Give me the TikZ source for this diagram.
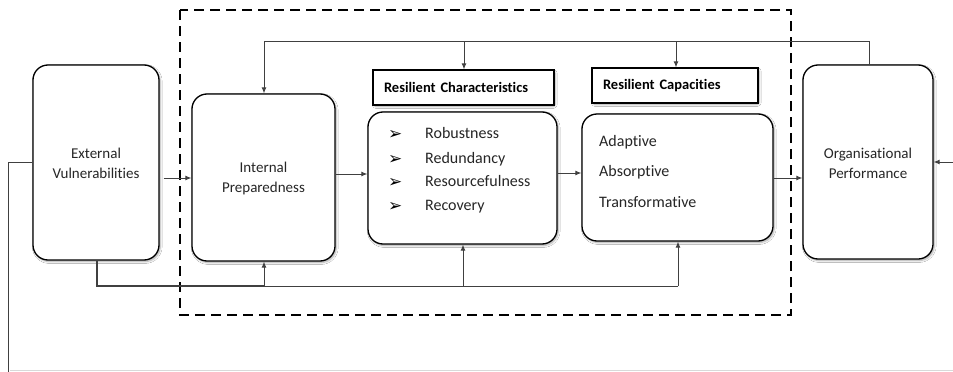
\documentclass[tikz,border=0pt]{standalone}
\usepackage{fontspec}
\setmainfont{Carlito}[Ligatures=NoCommon]
\newfontfamily\symfont{DejaVu Sans}
\usetikzlibrary{arrows.meta,shadows.blur}
\tikzset{
  softshadow/.style={blur shadow={shadow blur steps=6,shadow xshift=1.2pt,shadow yshift=-1.5pt,shadow opacity=35,shadow blur extra rounding=2pt}},
  mainbox/.style={draw=black,line width=1.3pt,rounded corners=15pt,fill=white,softshadow,inner sep=0pt},
  headbox/.style={draw=black,line width=1.3pt,fill=white,softshadow,inner xsep=11pt,inner ysep=0pt,align=left,font=\fontsize{14.5}{17}\selectfont\bfseries},
  boxtext/.style={align=center,font=\fontsize{15}{20}\selectfont,text=black!85},
  itemtext/.style={anchor=base west,inner sep=0pt,font=\fontsize{16}{20}\selectfont,text=black!85},
  bullet/.style={anchor=base west,inner sep=0pt,font=\symfont\fontsize{17}{20}\selectfont},
  conn/.style={draw=black!75,line width=0.9pt},
  arr/.style={conn,-{Latex[length=6pt,width=5pt]}},
  dashbox/.style={draw=black,line width=2.3pt,dash pattern=on 10pt off 6pt}
}
\begin{document}
\begin{tikzpicture}[x=1pt,y=-1pt]
\useasboundingbox (0,0) rectangle (953,372);
\fill[white] (0,0) rectangle (953,372);

% dashed frame
\draw[dashbox] (180,10) rectangle (791,315);

% main boxes
\node[mainbox,minimum width=126pt,minimum height=195pt] (EV) at (96,162.5) {};
\node[boxtext] (EVt) at (96,163) {External\\Vulnerabilities};
\node[mainbox,minimum width=143pt,minimum height=167pt] (IP) at (263.5,177.5) {};
\node[boxtext] (IPt) at (263.5,178) {Internal\\Preparedness};
\node[mainbox,minimum width=189pt,minimum height=132pt] (CH) at (462.5,178) {};
\node[mainbox,minimum width=191pt,minimum height=127pt] (CA) at (677.5,177.5) {};
\node[mainbox,minimum width=130pt,minimum height=194pt] (OP) at (868,162) {};
\node[boxtext] (OPt) at (868,163) {Organisational\\Performance};

% headers
\node[headbox,minimum width=181pt,minimum height=35pt,text width=159pt] (HC) at (463.5,87.5) {Resilient Characteristics};
\node[headbox,minimum width=166pt,minimum height=35pt,text width=144pt] (HA) at (675,85.5) {Resilient Capacities};

% characteristics list
\node[bullet] (b1) at (388,139) {➢};
\node[bullet] (b2) at (388,164) {➢};
\node[bullet] (b3) at (388,187) {➢};
\node[bullet] (b4) at (388,211) {➢};
\node[itemtext] (i1) at (425,138) {Robustness};
\node[itemtext] (i2) at (425,163) {Redundancy};
\node[itemtext] (i3) at (425,186) {Resourcefulness};
\node[itemtext] (i4) at (425,210) {Recovery};

% capacities list
\node[itemtext] (c1) at (599,146) {Adaptive};
\node[itemtext] (c2) at (599,176) {Absorptive};
\node[itemtext] (c3) at (599,207) {Transformative};

% coordinates for routing
\coordinate (topL) at (264,41);
\coordinate (topR) at (869,41);
\coordinate (botL) at (97,286);
\coordinate (botR) at (678,286);
\coordinate (leftT) at (8,162);
\coordinate (leftB) at (8,372);
\coordinate (rightIn) at (953,162);

% forward chain
\draw[arr] ([xshift=4pt]EV.east |- 0,178) -- (IP.west |- 0,178);
\draw[arr] (IP.east |- 0,174) -- (CH.west |- 0,174);
\draw[arr] (CH.east |- 0,173) -- (CA.west |- 0,173);
\draw[arr] (CA.east |- 0,178) -- (OP.west |- 0,178);

% top feedback
\draw[arr] (OP.north -| topR) -- (topR) -- (topL) -- (IP.north -| topL);
\draw[arr] (464,41) -- (HC.north -| 464,0);
\draw[arr] (676,41) -- (HA.north -| 676,0);

% bottom feed
\draw[conn,line width=1.2pt] (EV.south -| botL) -- (botL) -- (264,286);
\draw[conn] (264,286) -- (botR);
\draw[arr] (264,286) -- (IP.south -| 264,0);
\draw[arr] (463,286) -- (CH.south -| 463,0);
\draw[arr] (botR) -- (CA.south -| botR);

% outer loop
\draw[conn] (EV.west |- leftT) -- (leftT) -- (leftB);
\draw[arr] (rightIn) -- (OP.east |- rightIn);
\draw[draw=black!15,line width=0.8pt] (10,370.5) -- (953,370.5);
\end{tikzpicture}
\end{document}
